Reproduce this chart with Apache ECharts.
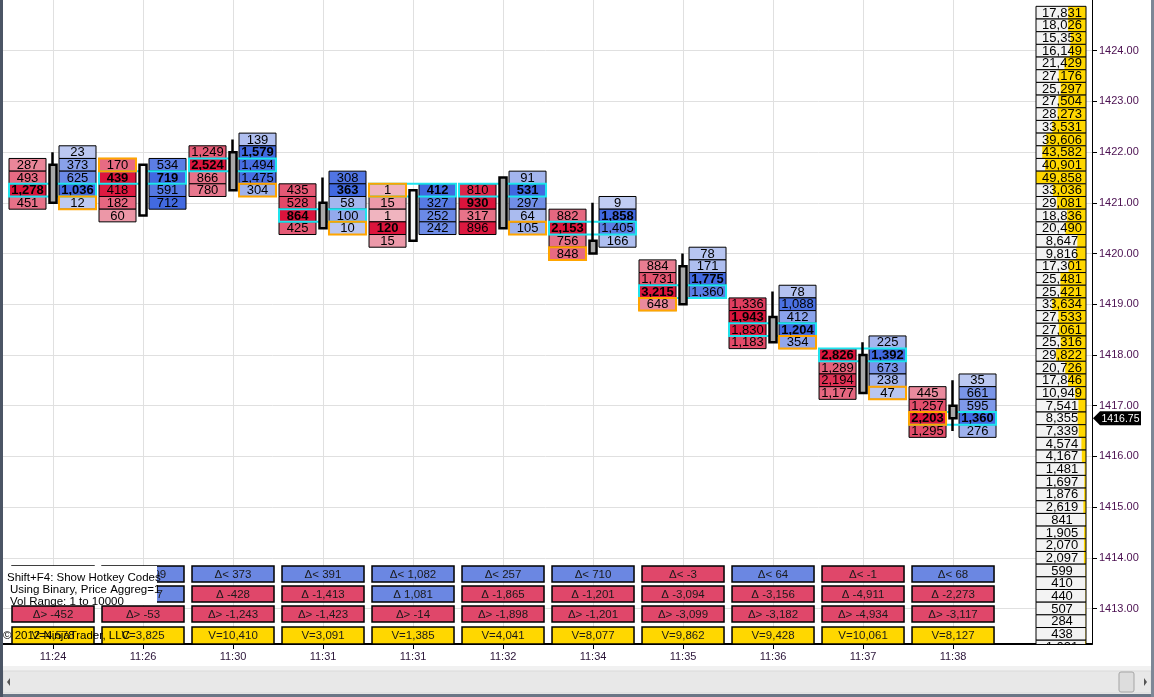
<!DOCTYPE html>
<html><head><meta charset="utf-8">
<script src="https://cdn.jsdelivr.net/npm/echarts@6/dist/echarts.min.js"></script>
<style>html,body{margin:0;padding:0;background:#fff}#c{width:1154px;height:697px}</style>
</head><body><div id="c"></div>
<script>
const TICK = 0.25;
const times = ['11:24','11:26','11:30','11:31','11:31','11:32','11:34','11:35','11:36','11:37','11:38'];
const bidTop = [1421.75,1421.75,1422.0,1421.25,1421.25,1421.25,1420.75,1419.75,1419.0,1418.0,1417.25];
const bidVols = [[287,493,1278,451],[170,439,418,182,60],[1249,2524,866,780],[435,528,864,425],[1,15,1,120,15],[810,930,317,896],[882,2153,756,848],[884,1731,3215,648],[1336,1943,1830,1183],[2826,1289,2194,1177],[445,1257,2203,1295]];
const askTop = [1422.0,1421.75,1422.25,1421.5,1421.25,1421.5,1421.0,1420.0,1419.25,1418.25,1417.5];
const askVols = [[23,373,625,1036,12],[534,719,591,712],[139,1579,1494,1475,304],[308,363,58,100,10],[412,327,252,242],[91,531,297,64,105],[9,1858,1405,166],[78,171,1775,1360],[78,1088,412,1204,354],[225,1392,673,238,47],[35,661,595,1360,276]];
const opens  = [1421.75,1420.75,1422.0,1421.0,1420.25,1421.5,1420.25,1419.75,1418.75,1418.0,1417.0];
const highs  = [1422.0,1421.75,1422.25,1421.5,1421.25,1421.5,1421.0,1420.0,1419.25,1418.25,1417.5];
const lows   = [1421.0,1420.75,1421.25,1420.5,1420.25,1420.5,1420.0,1419.0,1418.25,1417.25,1416.5];
const closes = [1421.0,1421.75,1421.25,1420.5,1421.25,1420.5,1420.0,1419.0,1418.25,1417.25,1416.75];
const closeSide = ['A','B','A','A','B','A','B','B','A','A','B'];
const deltaMax   = [39,1299,373,391,1082,257,710,-3,64,-1,68];
const deltaClose = [-440,1287,-428,-1413,1081,-1865,-1201,-3094,-3156,-4911,-2273];
const deltaMin   = [-452,-53,-1243,-1423,-14,-1898,-1201,-3099,-3182,-4934,-3117];
const volumes    = [4578,3825,10410,3091,1385,4041,8077,9862,9428,10061,8127];
const profileTop = 1424.75;
const profileVols = [17831,18026,15353,16149,21429,27176,25297,27504,28273,33531,39606,43582,40901,49858,33036,29081,18836,20490,8647,9816,17301,25481,25421,33634,27533,27061,25316,29822,20726,17846,10949,7541,8355,7339,4574,4167,1481,1697,1876,2619,841,1905,2070,2097,599,410,440,507,284,438,1031];
const priceTicks = [1413,1414,1415,1416,1417,1418,1419,1420,1421,1422,1423,1424];

const FONT = 'Liberation Sans, Arial, sans-serif';
const fmt = n => (n < 0 ? '-' : '') + Math.abs(n).toString().replace(/\B(?=(\d{3})+(?!\d))/g, ',');
const barIdx = times.map((t, i) => i);

const cellData = [];
const pocData = [];
const closeData = [];
times.forEach((t, i) => {
  const bm = Math.max(...bidVols[i]);
  const am = Math.max(...askVols[i]);
  const tot = {};
  bidVols[i].forEach((v, k) => {
    const p = bidTop[i] - k * TICK;
    cellData.push([i, p, v, 0, v / bm, v === bm ? 1 : 0]);
    tot[p] = (tot[p] || 0) + v;
  });
  askVols[i].forEach((v, k) => {
    const p = askTop[i] - k * TICK;
    cellData.push([i, p, v, 1, v / am, v === am ? 1 : 0]);
    tot[p] = (tot[p] || 0) + v;
  });
  let best = null;
  Object.keys(tot).forEach(p => { if (best === null || tot[p] > tot[best]) best = p; });
  pocData.push([i, Number(best)]);
  closeData.push([i, closes[i], closeSide[i] === 'A' ? 1 : 0]);
});
const candleData = times.map((t, i) => [i, opens[i], closes[i], lows[i], highs[i]]);
const boxData = times.map((t, i) => [i, 1420, deltaMax[i], deltaClose[i], deltaMin[i], volumes[i]]);
const profMax = Math.max(...profileVols);
const profData = profileVols.map((v, k) => [0, profileTop - k * TICK, v]);

const RED = ['#f0b8c2', '#dc143c'];
const BLUE = ['#c2cdf2', '#4169e1'];
const BID_OFF = -44, ASK_OFF = 6, CELL_W = 37;

function renderCell(params, api) {
  const i = api.value(0), p = api.value(1), v = api.value(2), side = api.value(3), r = api.value(4), bold = api.value(5);
  const c = api.coord([i, p]);
  const h = api.size([0, TICK])[1];
  const x = c[0] + (side === 0 ? BID_OFF : ASK_OFF);
  const fill = echarts.color.lerp(Math.pow(r, 0.8), side === 0 ? RED : BLUE);
  return { type: 'group', children: [
    { type: 'rect', shape: { x: x, y: c[1] - h / 2, width: CELL_W, height: h }, style: { fill: fill, stroke: '#000', lineWidth: 1 } },
    { type: 'text', style: { text: fmt(v), x: x + CELL_W / 2, y: c[1] + 0.5, align: 'center', verticalAlign: 'middle', fontSize: 13, fontFamily: FONT, fontWeight: bold ? 'bold' : 'normal', fill: '#000' } }
  ]};
}
function renderPoc(params, api) {
  const c = api.coord([api.value(0), api.value(1)]);
  const h = api.size([0, TICK])[1];
  return { type: 'rect', shape: { x: c[0] + BID_OFF, y: c[1] - h / 2, width: ASK_OFF + CELL_W - BID_OFF, height: h },
    style: { fill: null, stroke: '#1ee4ee', lineWidth: 2 } };
}
function renderClose(params, api) {
  const c = api.coord([api.value(0), api.value(1)]);
  const h = api.size([0, TICK])[1];
  const x = c[0] + (api.value(2) === 1 ? ASK_OFF : BID_OFF);
  return { type: 'rect', shape: { x: x, y: c[1] - h / 2, width: CELL_W, height: h },
    style: { fill: null, stroke: '#ffa500', lineWidth: 2 } };
}
function renderBoxes(params, api) {
  const cx = api.coord([api.value(0), api.value(1)])[0];
  const bottom = params.coordSys.y + params.coordSys.height;
  const vals = [api.value(2), api.value(3), api.value(4), api.value(5)];
  const labels = ['Δ< ' + fmt(vals[0]), 'Δ ' + fmt(vals[1]), 'Δ> ' + fmt(vals[2]), 'V=' + fmt(vals[3])];
  const tops = [-78, -58, -38, -17];
  const hs = [16, 16, 16, 17];
  const children = [];
  for (let k = 0; k < 4; k++) {
    const fill = k === 3 ? '#ffd700' : (vals[k] >= 0 ? '#6b87e2' : '#e0476a');
    children.push({ type: 'rect', shape: { x: cx - 41, y: bottom + tops[k], width: 82, height: hs[k] }, style: { fill: fill, stroke: '#000', lineWidth: 1.5 } });
    children.push({ type: 'text', style: { text: labels[k], x: cx, y: bottom + tops[k] + hs[k] / 2 + 0.5, align: 'center', verticalAlign: 'middle', fontSize: 11.5, fontFamily: FONT, fill: '#1a1a1a' } });
  }
  return { type: 'group', children: children };
}
function renderProfile(params, api) {
  const p = api.value(1), v = api.value(2);
  const cy = api.coord([0, p])[1];
  const h = api.size([0, TICK])[1];
  const right = params.coordSys.x + params.coordSys.width;
  const x0 = right - 56, w = 50;
  const yw = v / profMax * w;
  return { type: 'group', children: [
    { type: 'rect', shape: { x: x0, y: cy - h / 2, width: w, height: h }, style: { fill: '#f3f3f3', stroke: null } },
    { type: 'rect', shape: { x: x0 + w - yw, y: cy - h / 2, width: yw, height: h }, style: { fill: '#ffd700', stroke: null } },
    { type: 'rect', shape: { x: x0, y: cy - h / 2, width: w, height: h }, style: { fill: null, stroke: '#000', lineWidth: 1 } },
    { type: 'text', style: { text: fmt(v), x: x0 + w / 2 + 1, y: cy + 0.5, align: 'center', verticalAlign: 'middle', fontSize: 13, fontFamily: FONT, fill: '#000' } }
  ]};
}
function renderLast(params, api) {
  const cy = api.coord([0, api.value(1)])[1];
  const right = params.coordSys.x + params.coordSys.width;
  return { type: 'group', children: [
    { type: 'polygon', shape: { points: [[right + 1, cy], [right + 8, cy - 7], [right + 49, cy - 7], [right + 49, cy + 7], [right + 8, cy + 7]] }, style: { fill: '#000' } },
    { type: 'text', style: { text: api.value(1).toFixed(2), x: right + 28.5, y: cy + 0.5, align: 'center', verticalAlign: 'middle', fontSize: 10.5, fontFamily: FONT, fill: '#fff' } }
  ]};
}

const chart = echarts.init(document.getElementById('c'), null, { renderer: 'canvas' });
chart.setOption({
  animation: false,
  backgroundColor: '#ffffff',
  grid: { left: -37, right: 62, top: 0, bottom: 53, containLabel: false, outerBoundsMode: 'none' },
  xAxis: {
    type: 'value', min: -1, max: 11.544, interval: 1,
    axisLine: { show: true, onZero: false, lineStyle: { color: '#000', width: 2 } },
    axisTick: { show: true, length: 5, customValues: barIdx, lineStyle: { color: '#000' } },
    axisLabel: { customValues: barIdx, formatter: v => times[Math.round(v)] || '', color: '#2a1438', fontSize: 11, fontFamily: FONT, margin: 7 },
    splitLine: { show: true, lineStyle: { color: '#e0e0e0', width: 1 } }
  },
  yAxis: {
    type: 'value', position: 'right', min: 1412.3, max: 1425.0,
    axisLine: { show: true, onZero: false, lineStyle: { color: '#000', width: 1 } },
    axisTick: { show: true, length: 5, customValues: priceTicks, lineStyle: { color: '#000' } },
    axisLabel: { customValues: priceTicks, formatter: v => Number(v).toFixed(2), color: '#4a0f50', fontSize: 11, fontFamily: FONT, margin: 7 },
    splitLine: { show: true, lineStyle: { color: '#e0e0e0', width: 1 } }
  },
  series: [
    { type: 'custom', name: 'cells', renderItem: renderCell, data: cellData, z: 2, silent: true },
    { type: 'custom', name: 'poc', renderItem: renderPoc, data: pocData, z: 3, silent: true },
    { type: 'custom', name: 'close', renderItem: renderClose, data: closeData, z: 4, silent: true },
    { type: 'candlestick', name: 'price', data: candleData, encode: { x: 0, y: [1, 2, 3, 4] }, barWidth: 8, z: 5, silent: true,
      itemStyle: { color: '#f4f4f4', color0: '#a8a8a8', borderColor: '#000', borderColor0: '#000', borderWidth: 2.5 } },
    { type: 'custom', name: 'deltas', renderItem: renderBoxes, data: boxData, z: 2, silent: true },
    { type: 'custom', name: 'profile', renderItem: renderProfile, data: profData, z: 6, silent: true, clip: true },
    { type: 'custom', name: 'last', renderItem: renderLast, data: [[0, closes[closes.length - 1]]], z: 7, silent: true }
  ],
  graphic: [
    { type: 'rect', z: 100, shape: { x: 0, y: 566, width: 157, height: 39 }, style: { fill: '#fff' } },
    { type: 'text', z: 101, style: { text: 'Shift+F4: Show Hotkey Codes', x: 7, y: 578, verticalAlign: 'middle', fontSize: 11.5, fontFamily: FONT, fill: '#000' } },
    { type: 'text', z: 101, style: { text: 'Using Binary, Price Aggreg=1', x: 10, y: 590, verticalAlign: 'middle', fontSize: 11.5, fontFamily: FONT, fill: '#000' } },
    { type: 'text', z: 101, style: { text: 'Vol Range: 1 to 10000', x: 10, y: 602, verticalAlign: 'middle', fontSize: 11.5, fontFamily: FONT, fill: '#000' } },
    { type: 'text', z: 101, style: { text: '© 2012 NinjaTrader, LLC', x: 3, y: 636, verticalAlign: 'middle', fontSize: 11.5, fontFamily: FONT, fill: '#000' } },
    { type: 'rect', z: 100, shape: { x: 0, y: 666, width: 1154, height: 31 }, style: { fill: '#f1f1f1' } },
    { type: 'rect', z: 100, shape: { x: 3, y: 671, width: 1148, height: 22 }, style: { fill: '#e8e8e8', stroke: '#dadada' } },
    { type: 'rect', z: 101, shape: { x: 1119, y: 672, width: 15, height: 20, r: 2 }, style: { fill: '#dddddd', stroke: '#a5a5a5' } },
    { type: 'polygon', z: 101, shape: { points: [[7, 682], [10, 678], [10, 686]] }, style: { fill: '#555' } },
    { type: 'polygon', z: 101, shape: { points: [[1147, 682], [1144, 678], [1144, 686]] }, style: { fill: '#555' } },
    { type: 'rect', z: 102, shape: { x: 0, y: 694, width: 1154, height: 3 }, style: { fill: '#6b7686' } },
    { type: 'rect', z: 102, shape: { x: 0, y: 0, width: 3, height: 697 }, style: { fill: '#4b5565' } },
    { type: 'rect', z: 102, shape: { x: 1151, y: 0, width: 3, height: 697 }, style: { fill: '#7d8796' } }
  ]
});
</script></body></html>
